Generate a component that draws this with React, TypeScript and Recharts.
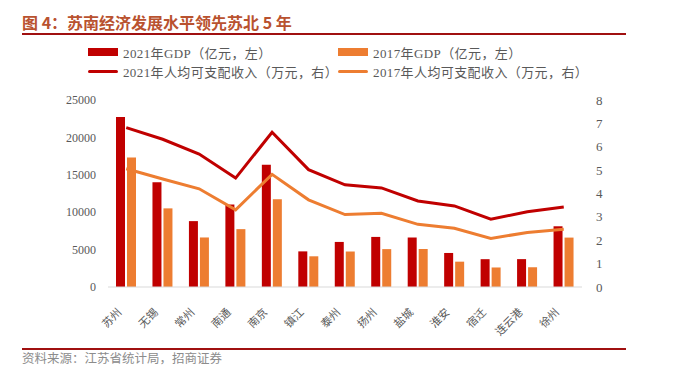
import { Bar, ComposedChart, Line, XAxis, YAxis } from "recharts";

const cities = ["苏州", "无锡", "常州", "南通", "南京", "镇江", "泰州", "扬州", "盐城", "淮安", "宿迁", "连云港", "徐州"];
const gdp2021 = [22718, 14003, 8808, 11027, 16355, 4763, 6025, 6696, 6617, 4550, 3719, 3727, 8118];
const gdp2017 = [17320, 10512, 6622, 7735, 11715, 4105, 4745, 5065, 5083, 3387, 2610, 2640, 6606];
const income2021 = [6.82, 6.32, 5.69, 4.66, 6.62, 5.02, 4.37, 4.24, 3.68, 3.47, 2.9, 3.22, 3.42];
const income2017 = [5.06, 4.62, 4.2, 3.3, 4.82, 3.73, 3.1, 3.15, 2.68, 2.51, 2.08, 2.33, 2.47];
const leftTicks = [0, 5000, 10000, 15000, 20000, 25000];
const rightTicks = [0, 1, 2, 3, 4, 5, 6, 7, 8];

const data = cities.map((city, i) => ({
  city,
  gdp2021: gdp2021[i],
  gdp2017: gdp2017[i],
  income2021: income2021[i],
  income2017: income2017[i],
}));

const RED = "#C00000";
const ORANGE = "#ED7D31";
const GREY = "#595959";
const SERIF = "'Liberation Serif', 'Noto Sans CJK SC', serif";

const legendItems = [
  { label: "2021年GDP（亿元，左）", color: RED, kind: "bar" },
  { label: "2017年GDP（亿元，左）", color: ORANGE, kind: "bar" },
  { label: "2021年人均可支配收入（万元，右）", color: RED, kind: "line" },
  { label: "2017年人均可支配收入（万元，右）", color: ORANGE, kind: "line" },
];

function ChartLegend() {
  return (
    <div
      style={{
        position: "absolute",
        left: 88,
        top: 45,
        display: "grid",
        gridTemplateColumns: "250px 270px",
        rowGap: 5,
        fontFamily: SERIF,
        fontSize: 13,
        letterSpacing: 0.4,
        color: GREY,
      }}
    >
      {legendItems.map((it) => (
        <div key={it.label} style={{ display: "flex", alignItems: "center", height: 14 }}>
          <span
            style={{
              display: "inline-block",
              width: 30,
              height: it.kind === "bar" ? 8 : 3,
              background: it.color,
              borderRadius: it.kind === "bar" ? 0 : 2,
              marginRight: 5,
            }}
          />
          {it.label}
        </div>
      ))}
    </div>
  );
}

function CityTick({ x, y, payload }: any) {
  return (
    <g transform={`translate(${x - 4},${y + 18})`}>
      <text transform="rotate(-45)" textAnchor="end" fontSize={11} fill={GREY} fontFamily={SERIF}>
        {payload.value}
      </text>
    </g>
  );
}

export default function App() {
  return (
    <div style={{ position: "absolute", left: 0, top: 0, width: 681, height: 391, background: "#fff" }}>
      <div
        style={{
          position: "absolute",
          left: 22,
          top: 12,
          fontFamily: "'Noto Sans CJK SC', sans-serif",
          fontWeight: 700,
          fontSize: 16,
          color: "#B9522F",
          lineHeight: "20px",
        }}
      >
        图 4：苏南经济发展水平领先苏北 5 年
      </div>
      <div style={{ position: "absolute", left: 22, top: 33, width: 604, height: 1.5, background: "#A01010" }} />
      <ChartLegend />
      <ComposedChart
        width={681}
        height={391}
        data={data}
        margin={{ top: 100, right: 59, bottom: 54, left: 58 }}
        barSize={9}
        barGap={2}
      >
        <XAxis
          dataKey="city"
          interval={0}
          tickLine={false}
          axisLine={{ stroke: "#D9D9D9" }}
          tick={<CityTick />}
          height={50}
        />
        <YAxis
          yAxisId="left"
          domain={[0, 25000]}
          ticks={leftTicks}
          interval={0}
          width={50}
          axisLine={false}
          tickLine={false}
          tick={{ fontSize: 12, fill: GREY, fontFamily: SERIF }}
          tickMargin={6}
        />
        <YAxis
          yAxisId="right"
          orientation="right"
          domain={[0, 8]}
          ticks={rightTicks}
          interval={0}
          width={40}
          axisLine={false}
          tickLine={false}
          tick={{ fontSize: 13, fill: GREY, fontFamily: SERIF }}
          tickMargin={8}
        />
        <Bar yAxisId="left" dataKey="gdp2021" fill={RED} isAnimationActive={false} />
        <Bar yAxisId="left" dataKey="gdp2017" fill={ORANGE} isAnimationActive={false} />
        <Line yAxisId="right" dataKey="income2021" stroke={RED} strokeWidth={3} dot={false} type="linear" isAnimationActive={false} />
        <Line yAxisId="right" dataKey="income2017" stroke={ORANGE} strokeWidth={3} dot={false} type="linear" isAnimationActive={false} />
      </ComposedChart>
      <div style={{ position: "absolute", left: 22, top: 348, width: 604, height: 1.5, background: "#A01010" }} />
      <div
        style={{
          position: "absolute",
          left: 22,
          top: 351,
          fontFamily: SERIF,
          fontSize: 12.5,
          color: "#8C8C8C",
          lineHeight: "16px",
        }}
      >
        资料来源：江苏省统计局，招商证券
      </div>
    </div>
  );
}
